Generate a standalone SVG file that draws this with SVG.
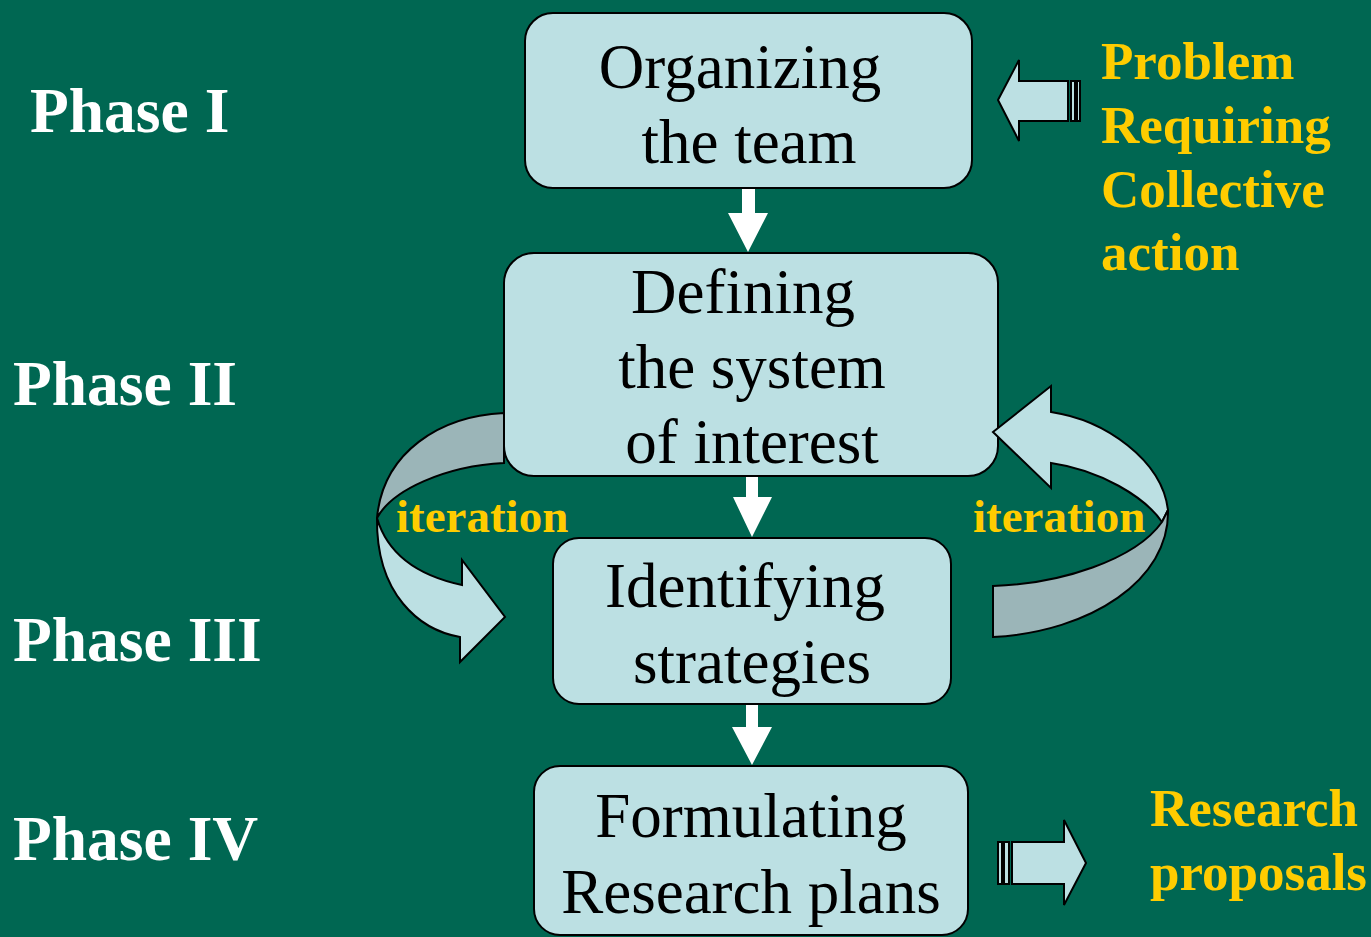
<svg xmlns="http://www.w3.org/2000/svg" width="1371" height="937" viewBox="0 0 1371 937">
<style>
.box{fill:#BCE0E3;stroke:#000;stroke-width:2}
.lt{fill:#BCE0E3;stroke:#000;stroke-width:2;stroke-linejoin:miter}
.dk{fill:#9BB5B8;stroke:#000;stroke-width:2}
.wa{fill:#fff}
.bt{font-family:"Liberation Serif",serif;font-size:63px;fill:#000;text-anchor:middle}
.ph{font-family:"Liberation Serif",serif;font-size:63.5px;font-weight:bold;fill:#fff}
.yl{font-family:"Liberation Serif",serif;font-size:53px;font-weight:bold;fill:#FFCC00}
.it{font-family:"Liberation Serif",serif;font-size:47px;font-weight:bold;fill:#FFCC00}
</style>
<rect width="1371" height="937" fill="#006752"/>
<g id="phases">
<text class="ph" x="30" y="132">Phase I</text>
<text class="ph" x="13" y="405">Phase II</text>
<text class="ph" x="13" y="661">Phase III</text>
<text class="ph" x="13" y="860">Phase IV</text>
</g>
<g id="n1">
<rect class="box" x="525" y="13" width="447" height="175" rx="28"/>
<text class="bt" x="740" y="88">Organizing</text>
<text class="bt" x="749" y="163">the team</text>
</g>
<g id="n2">
<rect class="box" x="504" y="253" width="494" height="223" rx="30"/>
<text class="bt" x="743" y="313">Defining</text>
<text class="bt" x="752" y="388">the system</text>
<text class="bt" x="752" y="463">of interest</text>
</g>
<g id="n3">
<rect class="box" x="553" y="538" width="398" height="166" rx="26"/>
<text class="bt" x="745" y="607">Identifying</text>
<text class="bt" x="752" y="683">strategies</text>
</g>
<g id="n4">
<rect class="box" x="534" y="766" width="434" height="169" rx="26"/>
<text class="bt" x="751" y="837">Formulating</text>
<text class="bt" x="751" y="913">Research plans</text>
</g>
<g id="connectors">
<path class="dk" d="M504,413 C440,416 383,452 377,518 C392,490 445,466 504,463 Z"/>
<path class="lt" d="M377,518 C376,595 420,630 460,637 L460,662 L505,617 L462,560 L462,585 C420,576 388,556 377,518 Z"/>
<path class="lt" d="M993,432 L1051,386 L1051,412 C1105,420 1162,460 1168,510 L1162,522 C1145,497 1100,470 1051,463 L1051,488 Z"/>
<path class="dk" d="M1168,510 C1170,580 1090,632 993,637 L993,586 C1060,584 1135,560 1162,522 Z"/>
<path class="wa" d="M742,189 L755,189 L755,213 L768,213 L748,252 L728,213 L742,213 Z"/>
<path class="wa" d="M746,477 L758,477 L758,497 L772,497 L752,537 L733,497 L746,497 Z"/>
<path class="wa" d="M746,705 L758,705 L758,727 L772,727 L752,765 L732,727 L746,727 Z"/>
<path class="lt" d="M998,100 L1019,60 L1019,81 L1068,81 L1068,121 L1019,121 L1019,141 Z"/>
<rect class="lt" x="1071" y="81" width="4" height="40"/>
<rect class="lt" x="1077" y="81" width="3" height="40"/>
<rect class="lt" x="998" y="842" width="4" height="42"/>
<rect class="lt" x="1004" y="842" width="5" height="42"/>
<path class="lt" d="M1012,842 L1064,842 L1064,820 L1086,863 L1064,905 L1064,884 L1012,884 Z"/>
<text class="it" x="396" y="532">iteration</text>
<text class="it" x="973" y="532">iteration</text>
</g>
<g id="input">
<text class="yl" x="1101" y="79">Problem</text>
<text class="yl" x="1101" y="143">Requiring</text>
<text class="yl" x="1101" y="207">Collective</text>
<text class="yl" x="1101" y="270">action</text>
</g>
<g id="output">
<text class="yl" x="1150" y="826">Research</text>
<text class="yl" x="1150" y="890">proposals</text>
</g>
</svg>
